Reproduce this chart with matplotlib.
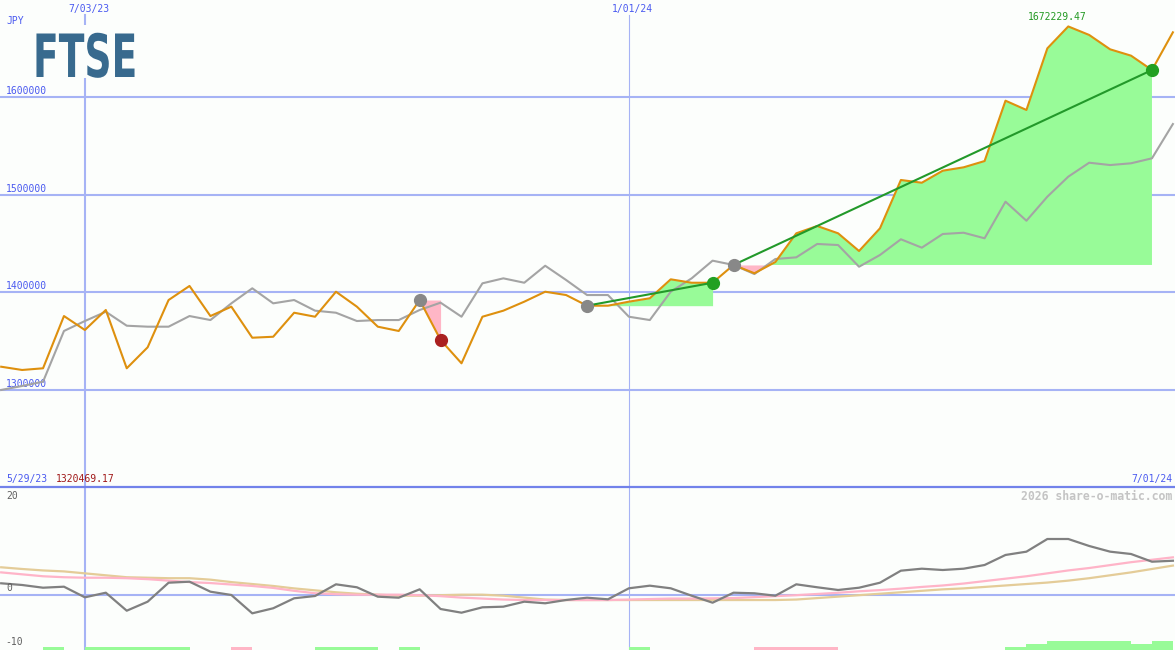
import numpy as np
import pandas as pd
import matplotlib
matplotlib.use('Agg')
import matplotlib.pyplot as plt
import matplotlib.dates as mdates
from matplotlib.lines import Line2D
from matplotlib.patches import Rectangle
from matplotlib.patheffects import AbstractPathEffect
from matplotlib.transforms import Affine2D

# weekly closes (JPY) and comparison line
dates = pd.date_range('2023-06-05', periods=57, freq='7D')

price = [1323800, 1320469.17, 1322200, 1375700, 1361400, 1381900, 1322200, 1343700,
         1392100, 1406500, 1375700, 1385300, 1353500, 1354500, 1379100, 1375000,
         1400600, 1385300, 1364800, 1360400, 1392100, 1351200, 1327300, 1375000,
         1381200, 1390400, 1400600, 1397200, 1386300, 1386300, 1390400, 1393900,
         1413300, 1409800, 1409800, 1428000, 1419500, 1431000, 1460400, 1467900,
         1460400, 1442300, 1465500, 1515000, 1512200, 1524500, 1528000, 1534400,
         1596200, 1586700, 1649800, 1672229.47, 1663500, 1648800, 1642300, 1627600,
         1666200]

compare = [1300000, 1304100, 1308500, 1360400, 1370600, 1380100, 1365800, 1364800,
           1364800, 1375700, 1371600, 1388700, 1404100, 1388700, 1392100, 1381200,
           1379100, 1370600, 1371600, 1371600, 1381900, 1389400, 1375000, 1409200,
           1414300, 1409800, 1427200, 1412600, 1397200, 1397200, 1375000, 1371600,
           1400600, 1414300, 1432400, 1428000, 1418700, 1434100, 1435800, 1449500,
           1448400, 1426200, 1438200, 1454300, 1445700, 1459700, 1461000, 1455300,
           1492800, 1473300, 1497900, 1518400, 1532700, 1530300, 1532100, 1537200,
           1572300]

# lower panel
momentum = [2.35, 2.0, 1.44, 1.65, -0.54, 0.41, -3.3, -1.44, 2.47, 2.68,
            0.62, -0.06, -3.84, -2.8, -0.74, -0.27, 2.14, 1.53, -0.41, -0.62,
            1.11, -2.95, -3.71, -2.6, -2.47, -1.44, -1.77, -1.09, -0.62, -0.95,
            1.32, 1.86, 1.32, -0.21, -1.65, 0.41, 0.29, -0.21, 2.14, 1.53,
            0.97, 1.44, 2.47, 4.95, 5.36, 5.09, 5.36, 6.12, 8.19, 8.87,
            11.48, 11.48, 10.04, 8.87, 8.39, 6.8, 7.0]

avg_fast = [4.6, 4.2, 3.8, 3.6, 3.5, 3.5, 3.4, 3.2, 2.9, 2.6,
            2.4, 2.1, 1.8, 1.4, 0.8, 0.3, 0.1, 0.0, 0.0, 0.0,
            -0.1, -0.3, -0.6, -0.8, -1.0, -1.1, -1.1, -1.1, -1.1, -1.1,
            -1.0, -0.9, -0.8, -0.8, -0.75, -0.7, -0.5, -0.3, -0.1, 0.15,
            0.4, 0.7, 0.95, 1.25, 1.6, 1.9, 2.3, 2.8, 3.3, 3.8,
            4.4, 5.0, 5.5, 6.1, 6.7, 7.2, 7.7]

avg_slow = [5.65, 5.3, 5.0, 4.8, 4.4, 4.0, 3.6, 3.5, 3.4, 3.4,
            3.1, 2.6, 2.2, 1.8, 1.3, 0.9, 0.5, 0.2, 0.0, -0.2,
            -0.2, -0.1, 0.0, 0.0, -0.2, -0.6, -1.0, -1.1, -1.1, -1.1,
            -1.1, -1.1, -1.1, -1.1, -1.1, -1.1, -1.1, -1.1, -1.0, -0.7,
            -0.4, -0.1, 0.2, 0.5, 0.8, 1.1, 1.3, 1.6, 1.9, 2.2,
            2.5, 2.9, 3.4, 4.0, 4.6, 5.3, 6.0]

# signal bars: >0 green, <0 pink, magnitude = level
signal = [0, 0, 1, 0, 1, 1, 1, 1, 1, 0,
          0, -1, 0, 0, 0, 1, 1, 1, 0, 1,
          0, 0, 0, 0, 0, 0, 0, 0, 0, 0,
          1, 0, 0, 0, 0, 0, -1, -1, -1, -1,
          0, 0, 0, 0, 0, 0, 0, 0, 1, 2,
          3, 3, 3, 3, 2, 3, 0]

# trades (week index of entry / exit)
trade_entry = [20, 28, 35]
trade_exit = [21, 34, 55]

y_ticks = [1300000, 1400000, 1500000, 1600000]
vlines = ['2023-07-03', '2024-01-01']
vline_labels = ['7/03/23', '1/01/24']
start_label = '5/29/23'
start_price = 1320469.17
end_label = '7/01/24'

bg = '#fcfefc'
grid_c = '#a6b3f5'
blue_txt = '#4a5af0'
orange = '#de900e'
green_fill = '#98fb98'
pink_fill = '#ffb6c6'

W, H = 1175, 650


class Stretch(AbstractPathEffect):
    # rescales glyphs around a fixed anchor (display pixels)
    def __init__(self, sx, sy, x0, y0):
        super().__init__()
        self.sx, self.sy, self.x0, self.y0 = sx, sy, x0, y0

    def draw_path(self, renderer, gc, tpath, affine, rgbFace=None):
        t = (Affine2D().translate(-self.x0, -self.y0)
             .scale(self.sx, self.sy).translate(self.x0, self.y0))
        renderer.draw_path(gc, tpath, affine + t, rgbFace)


fig = plt.figure(figsize=(W / 100, H / 100), dpi=100, facecolor=bg)
ax = fig.add_axes([0, 163 / H, 1, 487 / H])
ax2 = fig.add_axes([0, 0, 1, 163 / H])

x = mdates.date2num(dates)
price = np.array(price)
xlim = (x[0] - 0.4, x[0] - 0.4 + W / 2.989)

# ---- main panel
for v in y_ticks:
    ax.axhline(v, color=grid_c, lw=1.5, zorder=1)
    ax.annotate(str(v), xy=(0, v), xycoords=('axes fraction', 'data'),
                xytext=(6, 3), textcoords='offset pixels', va='baseline',
                ha='left', color=blue_txt, fontsize=7, family='DejaVu Sans Mono')

for d, lab, lw in zip(vlines, vline_labels, [1.5, 0.8]):
    xd = mdates.date2num(pd.Timestamp(d))
    ax.axvline(xd, ymax=1 - 15 / 487, color=grid_c, lw=lw, zorder=1)
    ax2.axvline(xd, color=grid_c, lw=lw, zorder=1)
    ax.text(xd + 1.2, 1 - 9 / 487, lab, transform=ax.get_xaxis_transform(),
            ha='center', va='center', color=blue_txt, fontsize=7,
            family='DejaVu Sans Mono')

for e, q in zip(trade_entry, trade_exit):
    seg = slice(e, q + 1)
    lvl = price[e]
    ax.fill_between(x[seg], price[seg], lvl, where=price[seg] >= lvl,
                    interpolate=True, color=green_fill, lw=0, zorder=2)
    ax.fill_between(x[seg], price[seg], lvl, where=price[seg] <= lvl,
                    interpolate=True, color=pink_fill, lw=0, zorder=2)

ax.plot(x, compare, color='#a4a4a4', lw=1.5, zorder=3)
ax.plot(x, price, color=orange, lw=1.5, zorder=4)

for e, q in zip(trade_entry, trade_exit):
    win = price[q] > price[e]
    if win:
        ax.plot([x[e], x[q]], [price[e], price[q]], color='#22992a', lw=1.5, zorder=5)
    ax.plot(x[e], price[e], 'o', ms=8.5, color='#888888', zorder=6)
    ax.plot(x[q], price[q], 'o', ms=8.5, color='#22a022' if win else '#aa2020', zorder=6)

imax = int(np.argmax(price))
ax.annotate(f'{price[imax]:.2f}', xy=(x[imax], price[imax]),
            xytext=(-11, 4), textcoords='offset pixels', ha='center', va='bottom',
            color='#229922', fontsize=7, family='DejaVu Sans Mono')

ax.set_xlim(*xlim)
ax.set_ylim(1200650, 1699300)
ax.set_axis_off()

# ---- lower panel
ax2.axhline(0, color=grid_c, lw=1.5, zorder=1)
ax2.plot(x, avg_slow, color='#e4cc98', lw=1.6, zorder=2)
ax2.plot(x, avg_fast, color='#ffb4c8', lw=1.6, zorder=3)
ax2.plot(x, momentum, color='#808080', lw=1.6, zorder=4)

sig = np.array(signal)
bottom = -11.4
step = x[1] - x[0]
ax2.bar(x[sig > 0], sig[sig > 0] * 0.62, width=step, bottom=bottom,
        align='edge', color=green_fill, lw=0, zorder=2)
ax2.bar(x[sig < 0], -sig[sig < 0] * 0.62, width=step, bottom=bottom,
        align='edge', color=pink_fill, lw=0, zorder=2)

ax2.set_xlim(*xlim)
ax2.set_ylim(bottom, 22.2)
ax2.set_axis_off()

fig.add_artist(Line2D([0, 1], [163 / H, 163 / H], color='#7282ea', lw=1.6))

# blank patch behind the title (hides the grid line there)
fig.add_artist(Rectangle((30 / W, 1 - 78 / H), 110 / W, 53 / H,
                         transform=fig.transFigure, facecolor=bg,
                         edgecolor='none', zorder=1))

# ---- texts
def ftext(px, py, s, **kw):
    fig.text(px / W, 1 - py / H, s, va='center', **kw)

mono = dict(family='DejaVu Sans Mono', fontsize=7)
ftext(6, 21, 'JPY', color=blue_txt, **mono)
fig.text(33 / W, 1 - 77 / H, 'FTSE', color='#386a8e', fontsize=24,
         fontweight='bold', family='DejaVu Sans', va='baseline', zorder=2,
         path_effects=[Stretch(1.13, 1.79, 33, H - 77)])
ftext(6, 479, start_label, color=blue_txt, **mono)
ftext(56, 479, f'{start_price:.2f}', color='#a01818', **mono)
ftext(1172, 479, end_label, color=blue_txt, ha='right', **mono)
ftext(1172, 496, '2026 share-o-matic.com', color='#c4c4c4', ha='right',
      family='DejaVu Sans Mono', fontsize=8.3, fontweight='bold')
ftext(6, 496, '20', color='#606060', **mono)
ftext(6, 588, '0', color='#606060', **mono)
ftext(5, 642, '-10', color='#606060', **mono)

fig.savefig('out.png', dpi=100, facecolor=bg)
